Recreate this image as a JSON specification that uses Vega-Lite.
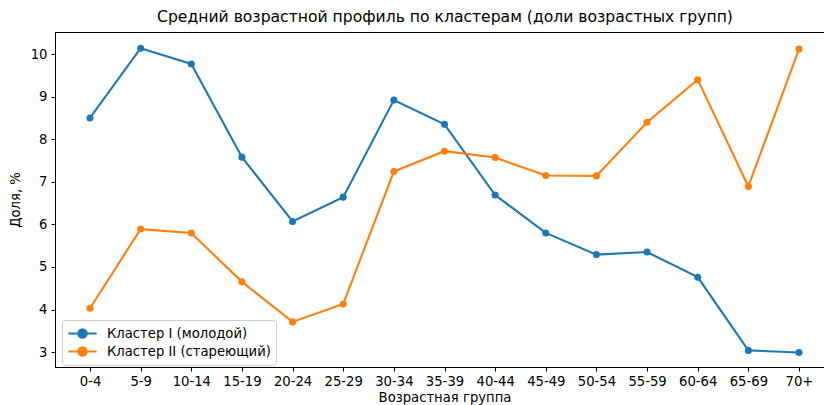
{
  "$schema": "https://vega.github.io/schema/vega-lite/v6.json",
  "width": 770,
  "height": 335,
  "autosize": {"type": "none"},
  "padding": {"left": 55, "top": 32, "right": 0, "bottom": 38},
  "background": "white",
  "title": {"text": "Средний возрастной профиль по кластерам (доли возрастных групп)", "font": "DejaVu Sans", "fontSize": 15.6, "fontWeight": "normal", "color": "#000", "offset": 6, "anchor": "middle", "dx": 5},
  "config": {
    "view": {"stroke": "#000", "strokeWidth": 1},
    "axis": {"labelFont": "DejaVu Sans", "titleFont": "DejaVu Sans", "labelFontSize": 13.2, "titleFontSize": 13.2, "titleFontWeight": "normal", "labelColor": "#000", "titleColor": "#000", "domainColor": "#000", "tickColor": "#000", "grid": false, "tickSize": 4}
  },
  "data": {"values": [
    {"age": "0-4", "cluster": "Кластер I (молодой)", "v": 8.50},
    {"age": "5-9", "cluster": "Кластер I (молодой)", "v": 10.14},
    {"age": "10-14", "cluster": "Кластер I (молодой)", "v": 9.77},
    {"age": "15-19", "cluster": "Кластер I (молодой)", "v": 7.58},
    {"age": "20-24", "cluster": "Кластер I (молодой)", "v": 6.07},
    {"age": "25-29", "cluster": "Кластер I (молодой)", "v": 6.64},
    {"age": "30-34", "cluster": "Кластер I (молодой)", "v": 8.92},
    {"age": "35-39", "cluster": "Кластер I (молодой)", "v": 8.35},
    {"age": "40-44", "cluster": "Кластер I (молодой)", "v": 6.69},
    {"age": "45-49", "cluster": "Кластер I (молодой)", "v": 5.80},
    {"age": "50-54", "cluster": "Кластер I (молодой)", "v": 5.29},
    {"age": "55-59", "cluster": "Кластер I (молодой)", "v": 5.35},
    {"age": "60-64", "cluster": "Кластер I (молодой)", "v": 4.76},
    {"age": "65-69", "cluster": "Кластер I (молодой)", "v": 3.04},
    {"age": "70+", "cluster": "Кластер I (молодой)", "v": 2.99},
    {"age": "0-4", "cluster": "Кластер II (стареющий)", "v": 4.03},
    {"age": "5-9", "cluster": "Кластер II (стареющий)", "v": 5.89},
    {"age": "10-14", "cluster": "Кластер II (стареющий)", "v": 5.80},
    {"age": "15-19", "cluster": "Кластер II (стареющий)", "v": 4.65},
    {"age": "20-24", "cluster": "Кластер II (стареющий)", "v": 3.71},
    {"age": "25-29", "cluster": "Кластер II (стареющий)", "v": 4.13},
    {"age": "30-34", "cluster": "Кластер II (стареющий)", "v": 7.24},
    {"age": "35-39", "cluster": "Кластер II (стареющий)", "v": 7.72},
    {"age": "40-44", "cluster": "Кластер II (стареющий)", "v": 7.57},
    {"age": "45-49", "cluster": "Кластер II (стареющий)", "v": 7.15},
    {"age": "50-54", "cluster": "Кластер II (стареющий)", "v": 7.14},
    {"age": "55-59", "cluster": "Кластер II (стареющий)", "v": 8.40},
    {"age": "60-64", "cluster": "Кластер II (стареющий)", "v": 9.40},
    {"age": "65-69", "cluster": "Кластер II (стареющий)", "v": 6.89},
    {"age": "70+", "cluster": "Кластер II (стареющий)", "v": 10.12}
  ]},
  "mark": {"type": "line", "strokeWidth": 2.1, "point": {"size": 50, "filled": true, "opacity": 1}},
  "encoding": {
    "x": {"field": "age", "type": "ordinal", "sort": null, "scale": {"type": "point", "range": [35, 744], "padding": 0},
      "axis": {"title": "Возрастная группа", "labelAngle": 0, "titlePadding": 4, "labelPadding": 4}},
    "y": {"field": "v", "type": "quantitative", "scale": {"domain": [2.65, 10.52], "nice": false, "zero": false},
      "axis": {"title": "Доля, %", "values": [3,4,5,6,7,8,9,10], "titlePadding": 8, "labelPadding": 4}},
    "color": {"field": "cluster", "type": "nominal", "scale": {"range": ["#1f77b4", "#ff7f0e"]},
      "legend": {"title": null, "orient": "none", "legendX": 7, "legendY": 288, "labelFont": "DejaVu Sans", "labelFontSize": 13.2, "labelColor": "#000", "labelLimit": 400,
        "fillColor": "rgba(255,255,255,0.8)", "strokeColor": "#ccc", "cornerRadius": 3, "padding": 5, "rowPadding": 1,
        "symbolType": "M-2,0L2,0M-0.6,0A0.6,0.6 0 1 1 0.6,0A0.6,0.6 0 1 1 -0.6,0", "symbolSize": 200, "symbolStrokeWidth": 2, "labelOffset": 16, "symbolOffset": 7,
        "encode": {"symbols": {"update": {"fill": {"scale": "color", "field": "value"}}}}}}
  }
}
